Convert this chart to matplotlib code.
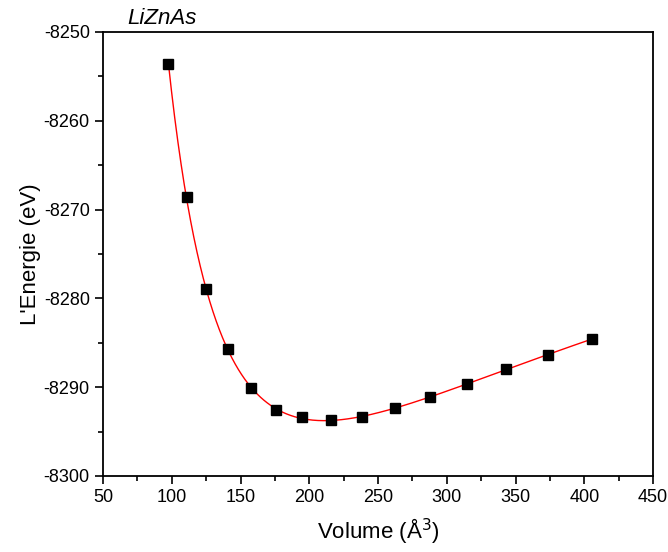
import numpy as np
import matplotlib.pyplot as plt
from matplotlib.ticker import MultipleLocator

plt.rcParams['font.family'] = ['Liberation Sans', 'DejaVu Sans']
plt.rcParams['axes.unicode_minus'] = False

volume = [97.5, 110.9, 124.7, 140.7, 157.6, 175.6, 195.0, 215.6, 238.1,
          262.1, 287.5, 314.5, 342.8, 373.4, 405.6]
energy = [-8253.57, -8268.54, -8278.9, -8285.7, -8290.1, -8292.6, -8293.4,
          -8293.7, -8293.3, -8292.35, -8291.1, -8289.6, -8288.0, -8286.4,
          -8284.6]

# Birch-Murnaghan style fit: cubic in V^(-2/3)
v = np.array(volume)
e = np.array(energy)
coef = np.polyfit(v ** (-2.0 / 3.0), e, 3)
vfit = np.linspace(v.min(), v.max(), 400)
efit = np.polyval(coef, vfit ** (-2.0 / 3.0))

fig = plt.figure(figsize=(6.68, 5.52), dpi=100)
ax = fig.add_axes([103 / 668, 1 - 476 / 552, 550 / 668, 444 / 552])

ax.plot(vfit, efit, color='red', lw=1.0, zorder=2)
ax.plot(volume, energy, 's', color='black', ms=7.2, zorder=3)

ax.set_xlim(50, 450)
ax.set_ylim(-8300, -8250)
ax.xaxis.set_major_locator(MultipleLocator(50))
ax.xaxis.set_minor_locator(MultipleLocator(25))
ax.yaxis.set_major_locator(MultipleLocator(10))
ax.yaxis.set_minor_locator(MultipleLocator(5))
ax.tick_params(which='major', direction='out', length=6, width=1.2, labelsize=13)
ax.tick_params(which='minor', direction='out', length=3.5, width=1.2)
for s in ax.spines.values():
    s.set_linewidth(1.3)

ax.set_xlabel('Volume (Å$^3$)', fontsize=16, labelpad=7)
ax.set_ylabel("L'Energie (eV)", fontsize=16, labelpad=2)
ax.text(0.045, 1.006, 'LiZnAs', transform=ax.transAxes, fontsize=16,
        style='italic', ha='left', va='bottom')

fig.savefig('out.png', dpi=100)
